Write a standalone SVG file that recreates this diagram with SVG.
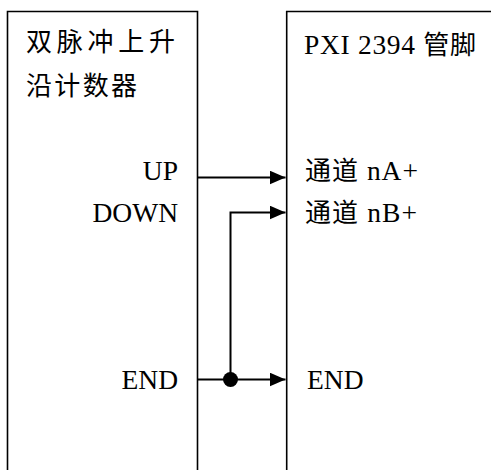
<svg xmlns="http://www.w3.org/2000/svg" width="491" height="470" viewBox="0 0 491 470">
<style>
.box{fill:none;stroke:#000;stroke-width:1.6}
.wire{fill:none;stroke:#000;stroke-width:2}
text{font-family:"Liberation Serif","Noto Sans CJK SC",serif;font-size:27.5px;fill:#000}
.cjk{font-family:"Noto Sans CJK SC","Liberation Serif",serif;font-size:26px}
.r{text-anchor:end}
</style>
<defs>
<marker id="arr" markerUnits="userSpaceOnUse" markerWidth="17" markerHeight="15" refX="16" refY="7" orient="auto">
<path d="M0,0 L16,7 L0,14 z" fill="#000"/>
</marker>
</defs>
<rect width="491" height="470" fill="#fff"/>
<g id="counter">
<path class="box" d="M7.5,471 V11.5 H197.5 V471"/>
<text class="cjk" x="26" y="51" textLength="149" lengthAdjust="spacing">双脉冲上升</text>
<text class="cjk" x="26" y="95" textLength="111" lengthAdjust="spacing">沿计数器</text>
<text class="r" x="178" y="180">UP</text>
<text class="r" x="178" y="222">DOWN</text>
<text class="r" x="178" y="389">END</text>
</g>
<g id="pxi">
<path class="box" d="M286.7,471 V11.5 H495"/>
<text x="304" y="54" textLength="172" lengthAdjust="spacing">PXI 2394 <tspan class="cjk">管脚</tspan></text>
<text x="305" y="180" textLength="113" lengthAdjust="spacing"><tspan class="cjk">通道</tspan> nA+</text>
<text x="305" y="222" textLength="112" lengthAdjust="spacing"><tspan class="cjk">通道</tspan> nB+</text>
<text x="307" y="389">END</text>
</g>
<g id="connectors">
<path class="wire" d="M197.5,177.5 H285.5" marker-end="url(#arr)"/>
<path class="wire" d="M230.5,379.5 V212.5 H285.5" marker-end="url(#arr)"/>
<path class="wire" d="M197.5,379.5 H285.5" marker-end="url(#arr)"/>
<circle cx="230.5" cy="379.5" r="7.5" fill="#000"/>
</g>
</svg>
